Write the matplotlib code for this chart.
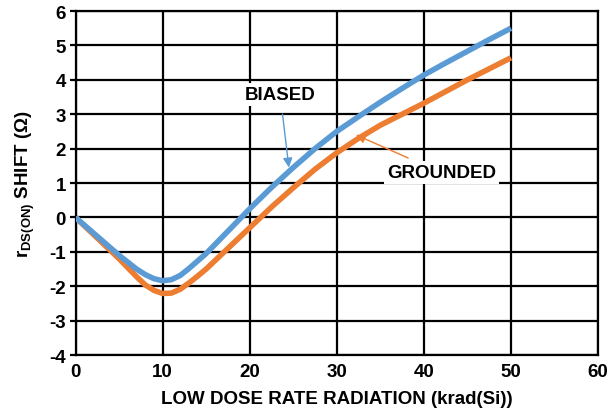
import matplotlib
matplotlib.use('Agg')
import matplotlib.pyplot as plt
import numpy as np

plt.rcParams['font.family'] = ['Liberation Sans', 'DejaVu Sans']
plt.rcParams['font.weight'] = 'bold'
plt.rcParams['axes.unicode_minus'] = False
plt.rcParams['mathtext.fontset'] = 'custom'
plt.rcParams['mathtext.bf'] = 'Liberation Sans:bold'
plt.rcParams['mathtext.rm'] = 'Liberation Sans:bold'

# dose in krad(Si)
dose = [0, 2.5, 5, 7, 8, 9, 10, 11, 12, 13, 14, 15, 17.5, 20, 22.5, 25,
        27.5, 30, 32.5, 35, 37.5, 40, 42.5, 45, 47.5, 50]
biased = [0, -0.55, -1.1, -1.5, -1.66, -1.78, -1.84, -1.81, -1.69, -1.49,
          -1.27, -1.05, -0.4, 0.25, 0.87, 1.45, 2.0, 2.5, 2.93, 3.35, 3.75,
          4.14, 4.49, 4.83, 5.17, 5.5]
grounded = [0, -0.6, -1.2, -1.72, -1.96, -2.12, -2.21, -2.2, -2.09, -1.91,
            -1.71, -1.5, -0.9, -0.3, 0.3, 0.86, 1.4, 1.88, 2.3, 2.68, 3.0,
            3.32, 3.66, 4.0, 4.32, 4.64]

xticks = np.arange(0, 61, 10)
yticks = np.arange(-4, 7, 1)

BLUE = '#5B9BD5'
ORANGE = '#ED7D31'
FS = 13.5

fig = plt.figure(figsize=(6.09, 4.14), dpi=100)
ax = fig.add_axes([0.124, 0.140, 0.858, 0.831])

ax.plot(dose, grounded, color=ORANGE, lw=4, solid_capstyle='butt',
        solid_joinstyle='round', zorder=3)
ax.plot(dose, biased, color=BLUE, lw=4, solid_capstyle='butt',
        solid_joinstyle='round', zorder=3)

ax.set_xlim(0, 60)
ax.set_ylim(-4, 6)
ax.set_xticks(xticks)
ax.set_yticks(yticks)
ax.grid(True, color='black', lw=1.6)
ax.set_axisbelow(True)
for s in ax.spines.values():
    s.set_linewidth(1.6)
ax.tick_params(axis='y', length=4, width=1.6, labelsize=FS, pad=3)
ax.tick_params(axis='x', length=0, labelsize=FS, pad=6)
for lab in ax.get_xticklabels() + ax.get_yticklabels():
    lab.set_fontweight('bold')

ax.set_xlabel('LOW DOSE RATE RADIATION (krad(Si))', fontsize=FS,
              fontweight='bold', labelpad=7)
ax.set_ylabel(r'r$_{\mathbf{DS(ON)}}$ SHIFT (Ω)', fontsize=FS,
              fontweight='bold', labelpad=9)

ax.annotate('BIASED', xy=(24.5, 1.45), xytext=(23.5, 3.57),
            ha='center', va='center', fontsize=FS, fontweight='bold',
            bbox=dict(boxstyle='square,pad=0.15', fc='white', ec='none'),
            arrowprops=dict(arrowstyle='-|>', color=BLUE, lw=1,
                            mutation_scale=14, shrinkA=6, shrinkB=0),
            zorder=4)
ax.annotate('GROUNDED', xy=(32.2, 2.4), xytext=(42.0, 1.3),
            ha='center', va='center', fontsize=FS, fontweight='bold',
            bbox=dict(boxstyle='square,pad=0.15', fc='white', ec='none'),
            arrowprops=dict(arrowstyle='-|>', color=ORANGE, lw=1,
                            mutation_scale=14, shrinkA=6, shrinkB=0),
            zorder=4)

fig.savefig('out.png', dpi=100)
